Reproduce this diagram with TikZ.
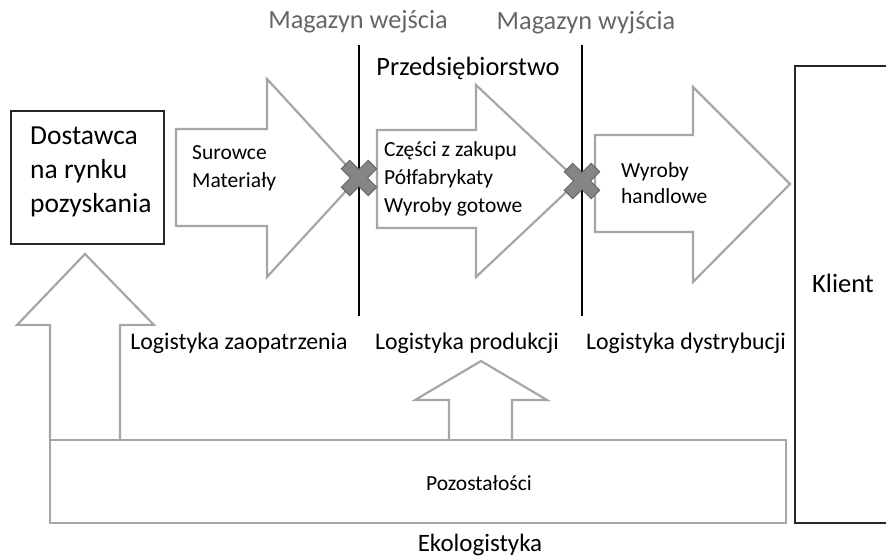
\documentclass[tikz,border=0pt]{standalone}
\usepackage{fontspec}
\setmainfont{Carlito}
\begin{document}
\begin{tikzpicture}
    [%%%%%%%%%%%%%%%%%%%%%%%%%%%%%%
        x=1pt, y=-1pt,
        flow/.style={draw=black!35, line width=2.2pt, fill=white, line join=miter},
        frame/.style={draw=black!85, line width=1.4pt},
        store/.style={draw=black, line width=1.2pt},
        label/.style={inner sep=0pt, text=black, font=\fontsize{25}{30}\selectfont},
        gray label/.style={label, text=black!60, font=\fontsize{26.3}{31}\selectfont},
        small/.style={inner sep=0pt, align=left, text=black, font=\fontsize{21.5}{28}\selectfont},
        xmark/.pic={\filldraw[fill=black!48, draw=black!60, line width=1pt, rotate=45]
            (-6,19) -- (6,19) -- (6,6) -- (19,6) -- (19,-6) -- (6,-6) -- (6,-19)
            -- (-6,-19) -- (-6,-6) -- (-19,-6) -- (-19,6) -- (-6,6) -- cycle;},
    ]%%%%%%%%%%%%%%%%%%%%%%%%%%%%%%
    \useasboundingbox (0,0) rectangle (886,558);
    % storage lines
    \draw[store] (359,45) -- (359,316);
    \draw[store] (582,45) -- (582,316);
    \node[gray label] (wej) at (358,22) {Magazyn wejścia};
    \node[gray label] (wyj) at (586,23) {Magazyn wyjścia};
    \node[label, font=\fontsize{26.4}{31}\selectfont] (firma) at (468,68) {Przedsiębiorstwo};
    % supplier and client
    \draw[frame] (11,111) rectangle (164,244);
    \node[label, align=left, anchor=west, font=\fontsize{27.5}{34}\selectfont] (dost) at (30,172) {Dostawca\\na rynku\\pozyskania};
    \draw[frame] (900,66) -- (795,66) -- (795,523) -- (900,523);
    \node[label, font=\fontsize{26.5}{31}\selectfont] (klient) at (843,283) {Klient};
    % flows
    \draw[flow] (176,129) -- (267,129) -- (267,79) -- (358,178) -- (267,277) -- (267,226) -- (176,226) -- cycle;
    \draw[flow] (377,130) -- (476,130) -- (476,85) -- (578,181) -- (476,277) -- (476,228) -- (377,228) -- cycle;
    \draw[flow] (595,135) -- (693,135) -- (693,87) -- (790,184) -- (693,282) -- (693,232) -- (595,232) -- cycle;
    \node[small, anchor=west] (sur) at (192,168) {Surowce\\Materiały};
    \node[small, anchor=west] (czesci) at (384,179) {Części z zakupu\\Półfabrykaty\\Wyroby gotowe};
    \node[small, anchor=west, font=\fontsize{21.5}{26}\selectfont] (handl) at (621,183) {Wyroby\\handlowe};
    \pic at (359,178) {xmark};
    \pic at (582,181) {xmark};
    % logistics
    \node[label, font=\fontsize{23.8}{28}\selectfont] (zaop) at (239,343) {Logistyka zaopatrzenia};
    \node[label, font=\fontsize{23.8}{28}\selectfont] (prod) at (467,343) {Logistyka produkcji};
    \node[label, font=\fontsize{23.8}{28}\selectfont] (dystr) at (686,343) {Logistyka dystrybucji};
    % residues
    \draw[flow] (50,440) -- (50,325) -- (17,325) -- (85,254) -- (154,325) -- (120,325) -- (120,440);
    \draw[flow] (449,440) -- (449,400) -- (415,400) -- (481,361) -- (547,400) -- (512,400) -- (512,440);
    \draw[flow] (50,440) rectangle (786,523);
    \node[small] (pozost) at (479,483) {Pozostałości};
    \node[label] (eko) at (480,545) {Ekologistyka};
\end{tikzpicture}
\end{document}
